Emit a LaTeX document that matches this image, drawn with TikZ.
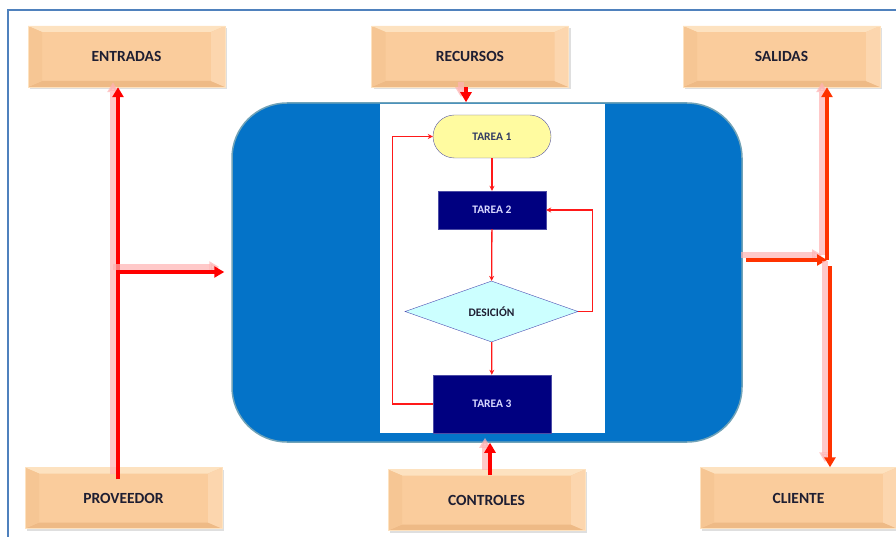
\documentclass[tikz,border=0pt]{standalone}
\usepackage{fontspec}
\setmainfont{Carlito}
\usetikzlibrary{arrows.meta}
\usetikzlibrary{positioning}
\usetikzlibrary{shapes.geometric}
\usetikzlibrary{shadows}
\definecolor{naranja}{RGB}{250,204,156}
\definecolor{naranjaclaro}{RGB}{253,226,192}
\definecolor{naranjaosc}{RGB}{238,186,134}
\definecolor{naranjalado}{RGB}{246,198,148}
\definecolor{naranjader}{RGB}{252,214,174}
\definecolor{azulfondo}{RGB}{4,115,200}
\definecolor{azulmarco}{RGB}{79,129,189}
\definecolor{marino}{RGB}{0,0,128}
\definecolor{amarillo}{RGB}{255,251,160}
\definecolor{celeste}{RGB}{204,255,255}
\definecolor{rojo}{RGB}{255,0,0}
\definecolor{rojonar}{RGB}{255,51,0}
\definecolor{texto}{RGB}{30,30,50}
\definecolor{pizarra}{RGB}{50,60,100}
\tikzset{caja/.style = {draw = naranjaclaro, fill = naranja, minimum width = 197, minimum height = 61,
    inner sep = 0, font = \bfseries\fontsize{15.5}{17}\selectfont, text = texto,
    drop shadow = {shadow xshift = 2pt, shadow yshift = -2pt, opacity = 0.25},
    path picture = {
      \fill [naranjaclaro] (path picture bounding box.north west) -- (path picture bounding box.north east)
        -- ([shift = {(-14pt, -6pt)}]path picture bounding box.north east)
        -- ([shift = {(14pt, -6pt)}]path picture bounding box.north west) -- cycle;
      \fill [naranjaosc] (path picture bounding box.south west) -- (path picture bounding box.south east)
        -- ([shift = {(-14pt, 6pt)}]path picture bounding box.south east)
        -- ([shift = {(14pt, 6pt)}]path picture bounding box.south west) -- cycle;
      \fill [naranjalado] (path picture bounding box.north west) -- (path picture bounding box.south west)
        -- ([shift = {(14pt, 6pt)}]path picture bounding box.south west)
        -- ([shift = {(14pt, -6pt)}]path picture bounding box.north west) -- cycle;
      \fill [naranjader] (path picture bounding box.north east) -- (path picture bounding box.south east)
        -- ([shift = {(-14pt, 6pt)}]path picture bounding box.south east)
        -- ([shift = {(-14pt, -6pt)}]path picture bounding box.north east) -- cycle;
    }}}
\tikzset{tarea/.style = {fill = marino, draw = marino!70, inner sep = 0,
    font = \bfseries\fontsize{11.5}{13}\selectfont, text = white!85!blue}}
\tikzset{linea/.style = {draw = red!90, line width = 1.3pt, -{Stealth[length = 5pt, width = 5pt]}}}
\tikzset{flecha/.style = {line width = 3.5pt, -{Triangle[length = 10pt, width = 11pt]},
    preaction = {draw = red!30, opacity = 0.7, line width = 6pt, transform canvas = {shift = {(-5pt, 5pt)}}}}}

\begin{document}
\begin{tikzpicture}[x = 1pt, y = -1pt]
    \useasboundingbox (0, 0) rectangle (896, 537);
    \draw [azulmarco, line width = 1.2pt] (8, 537) -- (8, 10) -- (896, 10);

    % cajas exteriores
    \node [caja] (entradas) at (126.5, 56.5) {ENTRADAS};
    \node [caja] (recursos) at (470, 56.5) {RECURSOS};
    \node [caja] (salidas) at (781.5, 56.5) {SALIDAS};
    \node [caja] (proveedor) at (123.5, 498) {PROVEEDOR};
    \node [caja] (controles) at (486.5, 500) {CONTROLES};
    \node [caja] (cliente) at (798.5, 498) {CLIENTE};

    % proceso
    \node [draw = gray!60!cyan, line width = 1.5pt, fill = azulfondo, rounded corners = 55,
        minimum width = 510, minimum height = 339] (proceso) at (487, 272.5) {};
    \node [fill = white, minimum width = 225, minimum height = 329, inner sep = 0] (panel) at (492.5, 268.5) {};

    \node [draw = gray!70!blue, fill = amarillo, rounded corners = 21.5, minimum width = 118,
        minimum height = 43, inner sep = 0, font = \bfseries\fontsize{11.5}{13}\selectfont,
        text = pizarra] (tarea1) at (492, 136.5) {TAREA 1};
    \node [tarea, minimum width = 108, minimum height = 38] (tarea2) at (492, 210) {TAREA 2};
    \node [diamond, draw = gray!60!blue, fill = celeste, minimum width = 173, minimum height = 61,
        inner sep = 0, font = \bfseries\fontsize{11.5}{13}\selectfont, text = texto] (desicion) at (491.5, 311.5) {DESICIÓN};
    \node [tarea, minimum width = 118, minimum height = 58] (tarea3) at (492, 404) {TAREA 3};

    \draw [linea] (tarea1) -- (tarea2);
    \draw [linea] (tarea2) -- (desicion);
    \draw [linea] (desicion) -- (tarea3);
    \draw [linea] (desicion.east) -- ++(14, 0) |- (tarea2.east);
    \draw [linea] (tarea3.west) -- ++(-40, 0) |- (tarea1.west);

    % flechas gruesas
    \coordinate (izq) at (118, 272);
    \coordinate (der) at (827, 260);
    \coordinate (der2) at (830, 266);
    \draw [flecha, rojo] ([yshift = -12pt]proveedor.north -| izq) -- (izq |- entradas.south);
    \draw [flecha, rojo] (izq) -- ([xshift = -7pt]izq -| proceso.west);
    \draw [flecha, rojo] ([xshift = -4pt]recursos.south) -- ([xshift = -4pt]recursos.south |- proceso.north);
    \draw [flecha, rojo] ([shift = {(3.5pt, -6pt)}]controles.north) -- ([xshift = 3.5pt]controles.north |- proceso.south);
    \draw [flecha, rojonar] ([xshift = 3pt]proceso.east |- der) -- (der);
    \draw [flecha, rojonar] (der) -- (der |- salidas.south);
    \draw [flecha, rojonar] (der2) -- (der2 |- cliente.north);
  \end{tikzpicture}
\end{document}
